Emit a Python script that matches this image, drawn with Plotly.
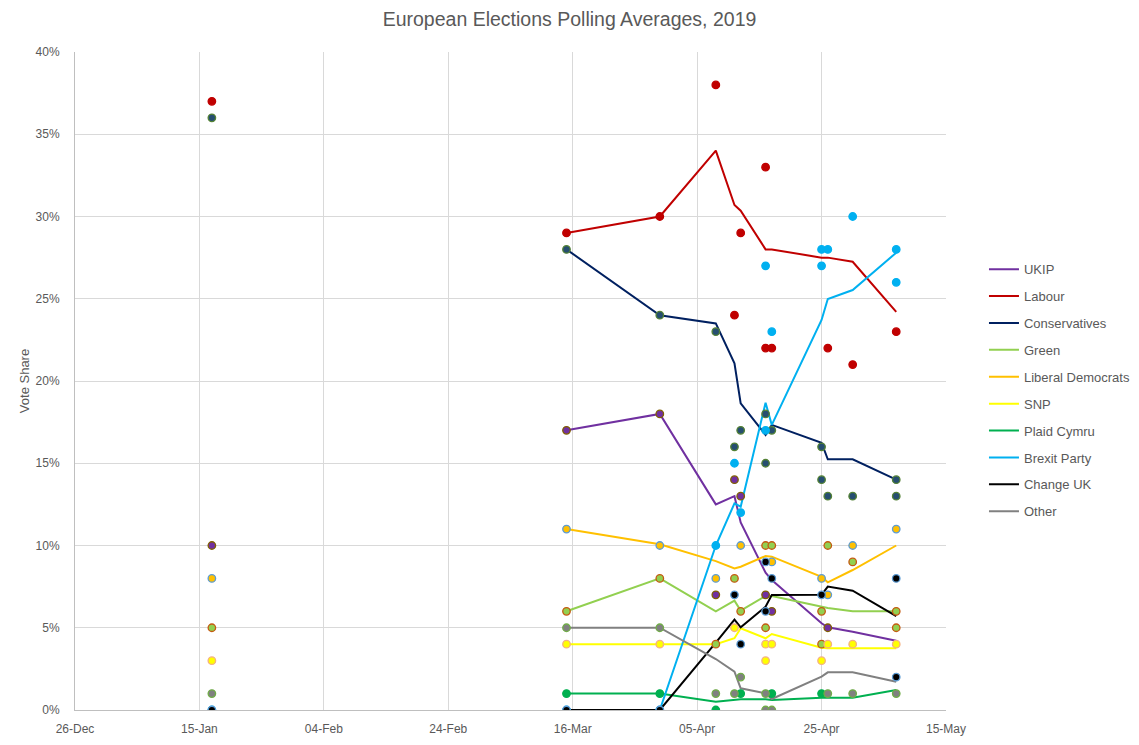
import plotly.graph_objects as go

N = None

# ---- Individual polls (markers) ----
poll_dates = ['2019-01-17', '2019-03-15', '2019-03-30', '2019-04-08', '2019-04-11',
              '2019-04-12', '2019-04-16', '2019-04-16', '2019-04-17', '2019-04-25',
              '2019-04-25', '2019-04-26', '2019-04-30', '2019-05-07', '2019-05-07']
ukip_polls   = [10, 17, 18, 7, 14, 13, 7, N, 6, N, N, 5, N, N, N]
labour_polls = [37, 29, 30, 38, 24, 29, 33, 22, 22, N, N, 22, 21, 23, N]
con_polls    = [36, 28, 24, 23, 16, 17, 18, 15, 17, 16, 14, 13, 13, 14, 13]
green_polls  = [5, 6, 8, 4, 8, 6, 10, 5, 10, 6, 4, 10, 9, 6, 5]
ld_polls     = [8, 11, 10, 8, N, 10, N, N, 9, 8, N, 7, 10, 11, N]
snp_polls    = [3, 4, 4, N, 5, N, 4, 3, 4, 3, N, 4, 4, 4, N]
plaid_polls  = [N, 1, 1, 0, N, 1, N, N, 1, 1, N, N, N, N, N]
brexit_polls = [0, 0, 0, 10, 15, 12, 27, 17, 23, 28, 27, 28, 30, 28, 26]
change_polls = [0, 0, 0, N, 7, 4, 9, 6, 8, 7, N, N, N, 8, 2]
other_polls  = [1, 5, 5, 1, 1, 2, 1, 0, 0, N, N, 1, 1, 1, N]

# ---- Polling averages (lines) ----
avg_dates = ['2019-03-15', '2019-03-30', '2019-04-08', '2019-04-11', '2019-04-12',
             '2019-04-16', '2019-04-17', '2019-04-25', '2019-04-26', '2019-04-30', '2019-05-07']
ukip_avg   = [17, 18, 12.5, 13.0, 11.4, 8.35, 7.9, 5.27, 5.03, 4.76, 4.21]
labour_avg = [29, 30, 34, 30.7, 30.35, 28.0, 28.0, 27.5, 27.5, 27.25, 24.2]
con_avg    = [28, 24, 23.5, 21.07, 18.64, 16.72, 17.33, 16.25, 15.24, 15.24, 14.0]
green_avg  = [6, 8, 6.0, 6.65, 6.04, 6.93, 6.93, 6.24, 6.2, 6.0, 6.0]
ld_avg     = [11, 10.07, 9.05, 8.61, 8.71, 9.36, 9.32, 8.1, 7.76, 8.51, 10.0]
snp_avg    = [4, 4, 4, 4.36, 4.97, 4.36, 4.62, 3.79, 3.76, 3.76, 3.76]
plaid_avg  = [1, 1, 0.5, 0.61, 0.65, 0.65, 0.61, 0.75, 0.75, 0.75, 1.22]
brexit_avg = [N, 0, 10, 12.56, 12.36, 18.68, 17.33, 23.71, 24.98, 25.53, 27.8]
change_avg = [0, 0, 4.1, 5.5, 5.03, 6.28, 6.99, 7.0, 7.5, 7.25, 5.71]
other_avg  = [5, 5, 3.1, 2.33, 1.32, 1.01, 0.67, 2.03, 2.29, 2.29, 1.72]

party_names = ['UKIP', 'Labour', 'Conservatives', 'Green', 'Liberal Democrats', 'SNP',
               'Plaid Cymru', 'Brexit Party', 'Change UK', 'Other']
line_colors = ['#7030A0', '#C00000', '#002060', '#92D050', '#FFC000', '#FFFF00',
               '#00B050', '#00B0F0', '#000000', '#808080']
marker_fills = ['#7030A0', '#C00000', '#264E70', '#92D050', '#FFC000', '#FFFF00',
                '#00B050', '#00B0F0', '#000000', '#808080']
marker_edges = ['#806000', '#C00000', '#548235', '#C55A11', '#5B9BD5', '#F4B183',
                '#00B050', '#00B0F0', '#5B9BD5', '#70AD47']

polls = [ukip_polls, labour_polls, con_polls, green_polls, ld_polls, snp_polls,
         plaid_polls, brexit_polls, change_polls, other_polls]
avgs = [ukip_avg, labour_avg, con_avg, green_avg, ld_avg, snp_avg,
        plaid_avg, brexit_avg, change_avg, other_avg]

fig = go.Figure()

for i, name in enumerate(party_names):
    fig.add_trace(go.Scatter(
        x=avg_dates, y=avgs[i], mode='lines', name=name,
        line=dict(color=line_colors[i], width=2),
        legendgroup=name, connectgaps=False))

for i, name in enumerate(party_names):
    xs = [d for d, v in zip(poll_dates, polls[i]) if v is not None]
    ys = [v for v in polls[i] if v is not None]
    fig.add_trace(go.Scatter(
        x=xs, y=ys, mode='markers', name=name, showlegend=False,
        legendgroup=name,
        marker=dict(size=7.5, color=marker_fills[i],
                    line=dict(color=marker_edges[i], width=1.3))))

txt = '#595959'
fig.update_layout(
    width=1139, height=745,
    paper_bgcolor='white', plot_bgcolor='white',
    font=dict(family='Liberation Sans, Arial, sans-serif', size=12, color=txt),
    title=dict(text='European Elections Polling Averages, 2019',
               x=0.5, xref='container', xanchor='center',
               y=1 - 19 / 745, yref='container', yanchor='middle',
               font=dict(size=19.5, color=txt)),
    margin=dict(l=75, r=193, t=52, b=35, autoexpand=False),
    showlegend=True,
    legend=dict(x=1.0436, xanchor='left', y=0.486, yanchor='middle',
                font=dict(size=13, color=txt), tracegroupgap=7,
                bgcolor='rgba(0,0,0,0)'),
    xaxis=dict(type='date', range=['2018-12-26', '2019-05-15'],
               tick0='2018-12-26', dtick=20 * 86400000, tickformat='%d-%b',
               showgrid=True, gridcolor='#D9D9D9', gridwidth=1,
               showline=True, linecolor='#BFBFBF', linewidth=1,
               ticks='', zeroline=False, ticklabelstandoff=8,
               tickfont=dict(size=12, color=txt)),
    yaxis=dict(range=[0, 40], dtick=5, ticksuffix='%',
               showgrid=True, gridcolor='#D9D9D9', gridwidth=1,
               showline=True, linecolor='#BFBFBF', linewidth=1,
               ticks='', zeroline=False, ticklabelstandoff=12,
               tickfont=dict(size=12, color=txt),
               title=dict(text='Vote Share', font=dict(size=13, color=txt), standoff=3)),
)

fig.write_html('out.html')
